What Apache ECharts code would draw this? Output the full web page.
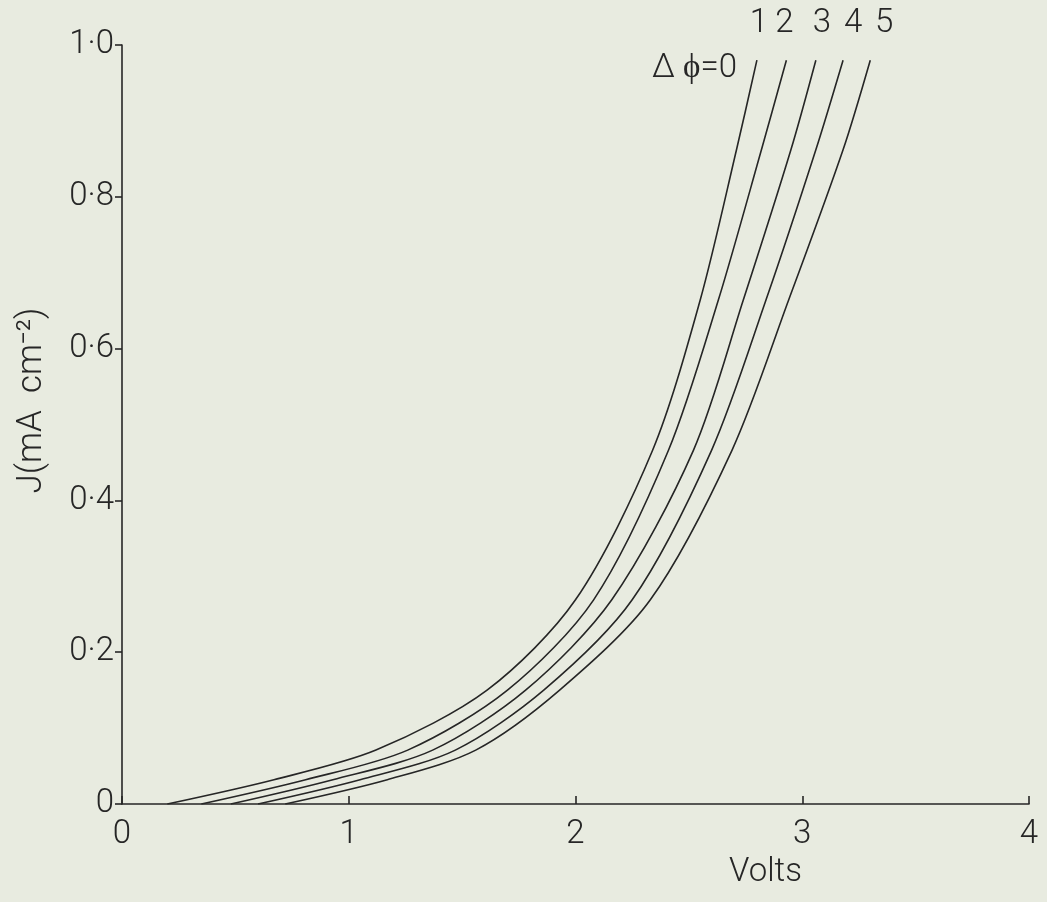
<!DOCTYPE html>
<html>
<head>
<meta charset="utf-8">
<title>J vs Volts</title>
<script src="https://cdn.jsdelivr.net/npm/echarts@6/dist/echarts.min.js"></script>
<style>
  html, body { margin: 0; padding: 0; background: #e8ebe0; }
  #chart { width: 1047px; height: 902px; }
</style>
</head>
<body>
<div id="chart"></div>
<script>
// current density levels (mA cm-2) at which the curves were read
const jLevels = [0, 0.032, 0.071, 0.15, 0.269, 0.466, 0.664, 0.862, 0.98]
// voltage of each curve at those levels, delta phi = 1..5
const curve1 = [0.20, 0.67, 1.12, 1.61, 2.00, 2.34, 2.55, 2.71, 2.80]
const curve2 = [0.35, 0.81, 1.26, 1.70, 2.08, 2.41, 2.63, 2.82, 2.93]
const curve3 = [0.48, 0.93, 1.37, 1.78, 2.16, 2.52, 2.74, 2.95, 3.06]
const curve4 = [0.60, 1.05, 1.47, 1.86, 2.25, 2.60, 2.84, 3.06, 3.18]
const curve5 = [0.72, 1.17, 1.56, 1.93, 2.33, 2.69, 2.94, 3.18, 3.30]
const curveNames = ['1', '2', '3', '4', '5']

const ink = '#262626'
const font = 'Roboto'
// nudge of each end label so the numbers sit like the original lettering
const labelNudge = [-6, -10, -2, 2, 6]

const chart = echarts.init(document.getElementById('chart'))

const seriesArr = [curve1, curve2, curve3, curve4, curve5].map((volts, i) => {
  return {
    type: 'line',
    name: curveNames[i],
    data: volts.map((v, k) => [v, jLevels[k]]),
    smooth: 0.3,
    showSymbol: false,
    lineStyle: { color: ink, width: 1.6 },
    endLabel: {
      show: true,
      formatter: curveNames[i],
      color: ink,
      fontFamily: font,
      fontWeight: 300,
      fontSize: 33,
      align: 'center',
      verticalAlign: 'bottom',
      offset: [labelNudge[i], -20]
    },
    silent: true
  }
})

chart.setOption({
  backgroundColor: '#e8ebe0',
  animation: false,
  grid: { left: 122, right: 18, top: 45, bottom: 98 },
  xAxis: {
    type: 'value',
    min: 0,
    max: 4,
    interval: 1,
    name: 'Volts',
    nameLocation: 'middle',
    nameGap: 52,
    nameTextStyle: {
      color: ink, fontFamily: font, fontWeight: 300, fontSize: 33,
      padding: [0, 0, 0, 380]
    },
    axisLine: { lineStyle: { color: ink, width: 1.6 } },
    axisTick: { show: true, inside: true, length: 8, lineStyle: { color: ink, width: 1.6 } },
    axisLabel: { color: ink, fontFamily: font, fontWeight: 300, fontSize: 33, margin: 14 },
    splitLine: { show: false }
  },
  yAxis: {
    type: 'value',
    min: 0,
    max: 1,
    interval: 0.2,
    name: 'J(mA  cm⁻²)',
    nameLocation: 'middle',
    nameRotate: 90,
    nameGap: 72,
    nameTextStyle: {
      color: ink, fontFamily: font, fontWeight: 300, fontSize: 35,
      padding: [0, 0, 0, 48]
    },
    axisLine: { show: true, lineStyle: { color: ink, width: 1.6 } },
    axisTick: { show: true, length: 7, lineStyle: { color: ink, width: 1.6 } },
    axisLabel: {
      color: ink, fontFamily: font, fontWeight: 300, fontSize: 33, margin: 8,
      formatter: v => v === 0 ? '0' : v.toFixed(1).replace('.', '·')
    },
    splitLine: { show: false }
  },
  graphic: [{
    type: 'text',
    right: 1047 - 737,
    top: 52,
    style: {
      text: 'Δ ϕ=0',
      fill: ink,
      font: '300 33px ' + font
    }
  }],
  series: seriesArr
})
</script>
</body>
</html>
